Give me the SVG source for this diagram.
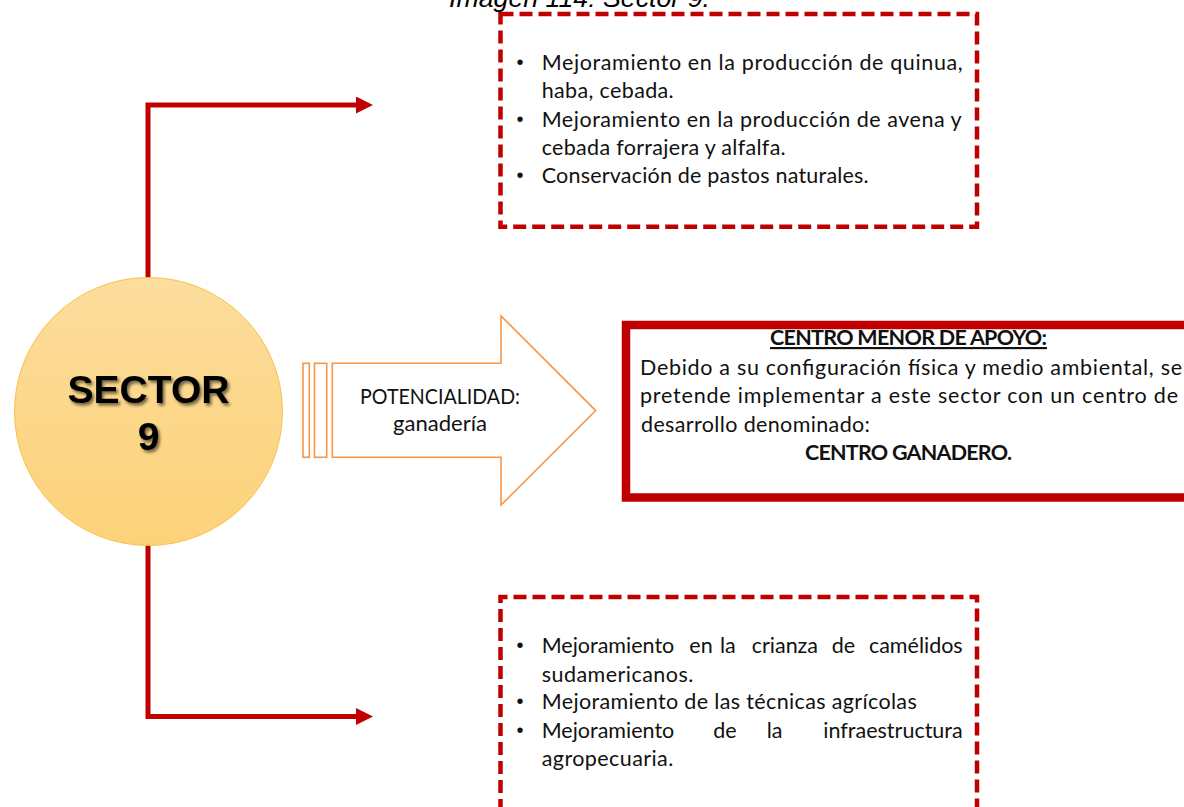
<svg xmlns="http://www.w3.org/2000/svg" width="1184" height="807" viewBox="0 0 1184 807">
  <defs>
    <style>
      .body { font-family: Lato, "Open Sans", "Liberation Sans", sans-serif; font-size: 21.5px; fill: #111; }
      .bul { font-family: "Liberation Sans", Arial, sans-serif; font-size: 20px; fill: #111; }
      .bold { font-weight: bold; }
      .dash { fill: none; stroke: #C00000; stroke-width: 4.5; stroke-dasharray: 13 6; }
      .conn { fill: none; stroke: #C00000; stroke-width: 5; stroke-linejoin: miter; }
      .orange { fill: #fff; stroke: #F79646; stroke-width: 1.6; }
      .sector { font-family: "Liberation Sans", Arial, sans-serif; font-weight: bold; font-size: 39px; fill: #000; }
    </style>
    <linearGradient id="circGrad" x1="0" y1="0" x2="0" y2="1">
      <stop offset="0" stop-color="#FCDD9D"/>
      <stop offset="1" stop-color="#FDD279"/>
    </linearGradient>
    <filter id="shadow" x="-20%" y="-20%" width="140%" height="160%">
      <feDropShadow dx="2" dy="2.5" stdDeviation="1.5" flood-color="#000" flood-opacity="0.55"/>
    </filter>
    <marker id="ah" markerUnits="userSpaceOnUse" markerWidth="17" markerHeight="17" refX="0" refY="8.5" orient="auto">
      <path d="M0,0 L17,8.5 L0,17 Z" fill="#C00000"/>
    </marker>
  </defs>

  <rect width="1184" height="807" fill="#fff"/>

  <text x="449" y="7" font-family="Liberation Sans, Arial, sans-serif" font-style="italic" font-size="26" fill="#000" textLength="261" lengthAdjust="spacingAndGlyphs">Imagen 114: Sector 9.</text>

  <g id="connectors">
    <path class="conn" d="M148,278 V105 H356" marker-end="url(#ah)"/>
    <path class="conn" d="M148,545 V716.5 H356" marker-end="url(#ah)"/>
  </g>

  <g id="sector9">
    <circle cx="148.5" cy="411.5" r="134" fill="url(#circGrad)" stroke="#F8C24A" stroke-width="1"/>
    <g filter="url(#shadow)">
      <text class="sector" x="148.5" y="402.5" text-anchor="middle">SECTOR</text>
      <text class="sector" x="148.5" y="450" text-anchor="middle">9</text>
    </g>
  </g>

  <g id="potencialidad">
    <rect class="orange" x="303" y="363.3" width="6.3" height="94"/>
    <rect class="orange" x="314.5" y="363.3" width="12.2" height="94"/>
    <path class="orange" d="M332.3,363.3 H501 V316 L595.7,410.6 L501,505 V457.3 H332.3 Z"/>
    <text class="body" x="440" y="404" text-anchor="middle" textLength="160" lengthAdjust="spacingAndGlyphs">POTENCIALIDAD:</text>
    <text class="body" x="440" y="430.5" text-anchor="middle" textLength="94" lengthAdjust="spacingAndGlyphs">ganadería</text>
  </g>

  <g id="top-box">
    <rect class="dash" x="500.5" y="14" width="476.5" height="212.7"/>
    <g class="bul">
      <text x="520" y="69" text-anchor="middle">•</text>
      <text x="520" y="125.7" text-anchor="middle">•</text>
      <text x="520" y="182.3" text-anchor="middle">•</text>
    </g>
    <g class="body">
      <text x="541.7" y="70" textLength="421" lengthAdjust="spacing">Mejoramiento en la producción de quinua,</text>
      <text x="541.7" y="98.3" textLength="132" lengthAdjust="spacing">haba, cebada.</text>
      <text x="541.7" y="126.7" textLength="420" lengthAdjust="spacing">Mejoramiento en la producción de avena y</text>
      <text x="541.7" y="155" textLength="244" lengthAdjust="spacing">cebada forrajera y alfalfa.</text>
      <text x="541.7" y="183.3" textLength="327" lengthAdjust="spacing">Conservación de pastos naturales.</text>
    </g>
  </g>

  <g id="centro-box">
    <rect x="626" y="325" width="600" height="172.5" fill="#fff" stroke="#C00000" stroke-width="8.5"/>
    <g class="body">
      <text class="bold" x="908.5" y="345" text-anchor="middle" text-decoration="underline" textLength="277" lengthAdjust="spacing">CENTRO MENOR DE APOYO:</text>
      <text x="640" y="375" textLength="542" lengthAdjust="spacing">Debido a su configuración física y medio ambiental, se</text>
      <text x="640" y="403" textLength="538" lengthAdjust="spacing">pretende implementar a este sector con un centro de</text>
      <text x="641" y="431.5" textLength="229" lengthAdjust="spacing">desarrollo denominado:</text>
      <text class="bold" x="908.5" y="460" text-anchor="middle" textLength="207" lengthAdjust="spacing">CENTRO GANADERO.</text>
    </g>
  </g>

  <g id="bottom-box">
    <path class="dash" d="M500.5,812 V597 H977 V812"/>
    <g class="bul">
      <text x="520" y="652.3" text-anchor="middle">•</text>
      <text x="520" y="708.3" text-anchor="middle">•</text>
      <text x="520" y="736.7" text-anchor="middle">•</text>
    </g>
    <g class="body">
      <text y="653.3"><tspan x="541.7">Mejoramiento</tspan><tspan x="689.3">en</tspan><tspan x="720">la</tspan><tspan x="751.7">crianza</tspan><tspan x="831.7">de</tspan></text>
      <text x="962.7" y="653.3" text-anchor="end">camélidos</text>
      <text x="541.7" y="681.7" textLength="151.6" lengthAdjust="spacing">sudamericanos.</text>
      <text x="541.7" y="709.3" textLength="375" lengthAdjust="spacing">Mejoramiento de las técnicas agrícolas</text>
      <text y="737.7"><tspan x="541.7">Mejoramiento</tspan><tspan x="713.3">de</tspan><tspan x="766.7">la</tspan></text>
      <text x="962.7" y="737.7" text-anchor="end">infraestructura</text>
      <text x="541.7" y="765.7" textLength="131.6" lengthAdjust="spacing">agropecuaria.</text>
    </g>
  </g>
</svg>
